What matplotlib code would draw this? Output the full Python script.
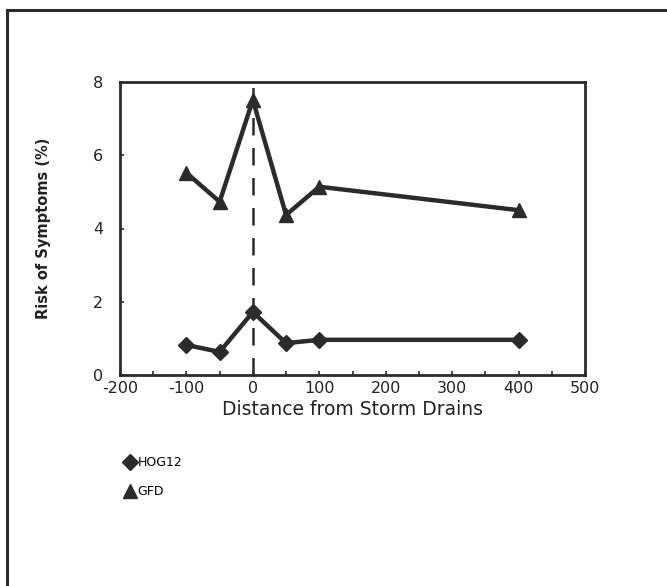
import matplotlib
matplotlib.use("Agg")
import matplotlib.pyplot as plt
from matplotlib.patches import Rectangle
from matplotlib.lines import Line2D

distance = [-100, -50, 0, 50, 100, 400]
hog12 = [0.82, 0.63, 1.72, 0.87, 0.96, 0.96]
gfd = [5.52, 4.73, 7.51, 4.37, 5.14, 4.50]
x_ticks = [-200, -100, 0, 100, 200, 300, 400, 500]
y_ticks = [0, 2, 4, 6, 8]
series_names = ["HOG12", "GFD"]

plt.rcParams['font.family'] = ['DejaVu Sans']
ink = '#2b2b2b'

fig = plt.figure(figsize=(6.67, 5.86), dpi=100)
fig.patch.set_facecolor('white')

# outer frame
fig.add_artist(Rectangle((7/667, -0.05), 1.1, 1 - 10/586 + 0.05, transform=fig.transFigure,
                         fill=False, edgecolor=ink, linewidth=2.2))

ax = fig.add_axes([120/667, (586-375)/586, 465/667, 293/586])
ax.set_xlim(-200, 500)
ax.set_ylim(0, 8)

ax.plot([0, 0], [0, 8], color=ink, linestyle=(0, (7, 5)), linewidth=1.8, zorder=1)
ax.plot(distance, gfd, color=ink, linewidth=3.2, marker='^', markersize=10, zorder=3)
ax.plot(distance, hog12, color=ink, linewidth=3.2, marker='D', markersize=8, zorder=3)

ax.set_xticks(x_ticks)
ax.set_xticklabels([str(v) for v in x_ticks])
ax.set_xticks(range(-150, 500, 50), minor=True)
ax.set_yticks(y_ticks)
ax.tick_params(axis='both', which='both', direction='in', length=3, width=1.2, color=ink,
               labelsize=11.5, labelcolor='#222222')
ax.tick_params(axis='x', pad=4)
ax.tick_params(axis='y', pad=12)
for s in ax.spines.values():
    s.set_linewidth(2)
    s.set_color(ink)

ax.set_xlabel("Distance from Storm Drains", fontsize=13.5, color='#222222', labelpad=3)
ax.set_ylabel("Risk of Symptoms (%)", fontsize=10.5, color='#222222', fontweight='bold', labelpad=30)

# legend below the axes
h1 = Line2D([], [], color=ink, marker='D', markersize=8, linestyle='none')
h2 = Line2D([], [], color=ink, marker='^', markersize=10, linestyle='none')
fig.legend([h1, h2], series_names, loc='upper left', bbox_to_anchor=(120/667, 1 - 451/586),
           frameon=False, fontsize=9, handlelength=0.8, handletextpad=0.2,
           labelspacing=1.3, borderaxespad=0)

fig.savefig("out.png", dpi=100, facecolor='white')
